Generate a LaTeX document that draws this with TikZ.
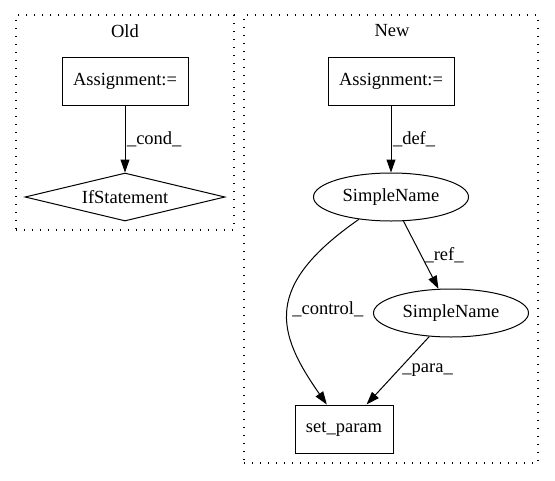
\documentclass[tikz,border=0pt]{standalone}
\usepackage{fontspec}
\setmainfont{Liberation Serif}
\usetikzlibrary{arrows.meta,shapes.geometric}

\begin{document}
\begin{tikzpicture}[
    x=1pt, y=-1pt,
    every node/.style={color=black, font=\fontsize{18.5}{22}\selectfont},
    cluster box/.style={draw, line width=1.2pt, dash pattern=on 1.2pt off 6.8pt},
    stmt box/.style={draw, line width=1pt, rectangle, minimum height=48pt},
    name ellipse/.style={draw, line width=1pt, ellipse, inner sep=0pt,
        minimum width=155pt, minimum height=48pt},
    cond diamond/.style={draw, line width=1pt, diamond, aspect=4.2, inner sep=0pt,
        minimum width=200pt, minimum height=48pt},
    flow line/.style={line width=1pt, -{Triangle[length=13pt, width=9pt]}},
    edge label/.style={right, inner sep=1.5pt}
    ]
    \useasboundingbox (0,0) rectangle (555,480);
    % Clusters
    \node[cluster box, minimum width=218pt, minimum height=215pt] (old) at (125,122.5) {};
    \node (oldtitle) at (125,31) {Old};
    \node[cluster box, minimum width=294pt, minimum height=448pt] (new) at (391,239) {};
    \node (newtitle) at (392,31) {New};
    % Old side
    \node[stmt box, minimum width=126pt] (oassign) at (125,81) {Assignment:=};
    \node[cond diamond] (oif) at (125,197) {IfStatement};
    \draw[flow line] (oassign) -- (oif) node[edge label, midway] {\_cond\_};
    % New side
    \node[stmt box, minimum width=126pt] (nassign) at (391,81) {Assignment:=};
    \node[name ellipse] (nname) at (391,197) {SimpleName};
    \node[name ellipse] (nref) at (451,313) {SimpleName};
    \node[stmt box, minimum width=98pt] (setparam) at (344,429) {set\_param};
    \draw[flow line] (nassign) -- (nname) node[edge label, midway] {\_def\_};
    \draw[flow line] (nname) -- (nref) node[edge label, midway, inner sep=3pt] {\_ref\_};
    \draw[flow line] (nref) -- (setparam) node[edge label, midway, inner sep=4pt] {\_para\_};
    % the control edge bends out to the left
    \draw[flow line] (nname) .. controls (263,286) and (276,332) .. (setparam)
        node[edge label, pos=0.5, inner sep=4pt] {\_control\_};
\end{tikzpicture}
\end{document}
